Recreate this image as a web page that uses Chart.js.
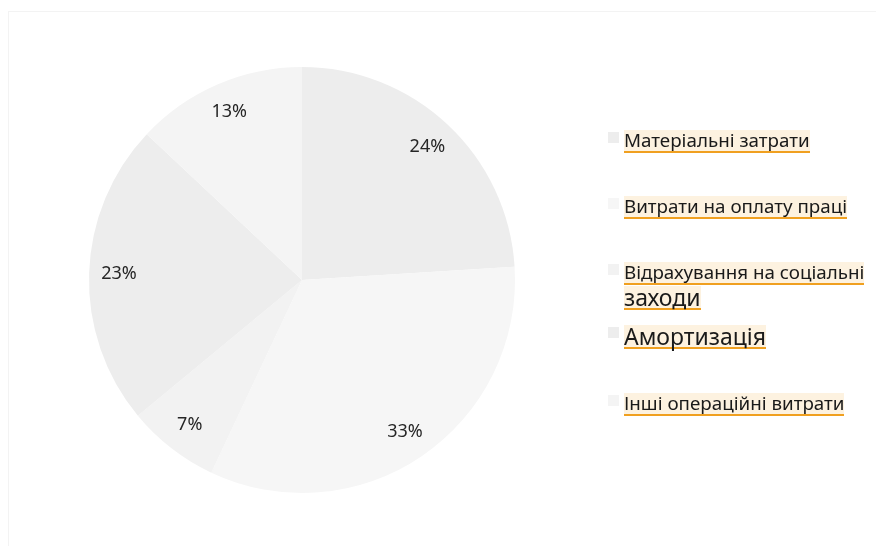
<!DOCTYPE html>
<html>
<head>
<meta charset="utf-8">
<script src="https://cdn.jsdelivr.net/npm/chart.js@4"></script>
<style>
    html, body { margin: 0; padding: 0; background: #fff; }
    #wrap { position: relative; width: 876px; height: 546px; overflow: hidden; }
    #frame { position: absolute; left: 8px; top: 11px; width: 900px; height: 600px; border: 1px solid #f3f3f3; }
    #costChart { position: absolute; left: 0; top: 0; }
    #legend { position: absolute; left: 608px; top: 130px; font-family: "Noto Sans", sans-serif; color: #1a1a1a; }
    .item { position: absolute; left: 0; padding-left: 16px; }
    .box { position: absolute; left: 0; top: 2px; width: 11px; height: 11px; }
    .txt { display: block; width: fit-content; background: #fdf2e0; border-bottom: 2px solid #f0a020; font-size: 18.8px; line-height: 21px; white-space: nowrap; }
    .big { font-size: 23px; line-height: 21px; padding-top: 1px; }
</style>
</head>
<body>
<div id="wrap">
    <div id="frame"></div>
    <canvas id="costChart" width="876" height="546"></canvas>
    <div id="legend"></div>
</div>
<script>
const costLabels = ['Матеріальні затрати', 'Витрати на оплату праці', 'Відрахування на соціальні заходи', 'Амортизація', 'Інші операційні витрати'];
const costShares = [24, 33, 7, 23, 13];
const sliceColors = ['#ededed', '#f6f6f6', '#f2f2f2', '#ededed', '#f4f4f4'];

// legend rows: top offset of each row inside the legend block
const legendTops = [0, 66, 132, 195, 263];

const percentLabels = {
    id: 'percentLabels',
    afterDatasetsDraw(chart) {
        const ctx = chart.ctx;
        const meta = chart.getDatasetMeta(0);
        ctx.save();
        ctx.font = '18px "Noto Sans", sans-serif';
        ctx.fillStyle = '#262626';
        ctx.textAlign = 'center';
        ctx.textBaseline = 'middle';
        meta.data.forEach(function (arc, i) {
            const p = arc.getProps(['x', 'y', 'startAngle', 'endAngle', 'outerRadius'], true);
            const mid = (p.startAngle + p.endAngle) / 2;
            const r = p.outerRadius * 0.86;
            ctx.fillText(costShares[i] + '%', p.x + Math.cos(mid) * r, p.y + Math.sin(mid) * r);
        });
        ctx.restore();
    }
};

function InitCostChart() {
    const ctx = document.getElementById('costChart').getContext('2d');
    new Chart(ctx, {
        type: 'pie',
        data: {
            labels: costLabels,
            datasets: [{
                data: costShares,
                backgroundColor: sliceColors,
                borderWidth: 0
            }]
        },
        options: {
            responsive: false,
            animation: false,
            layout: { padding: { left: 89, right: 361, top: 67, bottom: 53 } },
            plugins: {
                legend: { display: false },
                tooltip: { enabled: false }
            }
        },
        plugins: [percentLabels]
    });
}

function CreateLegend() {
    const legend = document.getElementById('legend');
    costLabels.forEach(function (label, i) {
        const item = document.createElement('div');
        item.className = 'item';
        item.style.top = legendTops[i] + 'px';
        let html = `<span class="box" style="background:${sliceColors[i]}"></span>`;
        if (i === 2) {
            const words = label.split(' ');
            const last = words.pop();
            html += `<span class="txt">${words.join(' ')}</span><span class="txt big" style="margin-top:1px">${last}</span>`;
        } else if (i === 3) {
            html += `<span class="txt big">${label}</span>`;
        } else {
            html += `<span class="txt">${label}</span>`;
        }
        item.innerHTML = html;
        legend.appendChild(item);
    });
}

CreateLegend();
InitCostChart();
</script>
</body>
</html>
